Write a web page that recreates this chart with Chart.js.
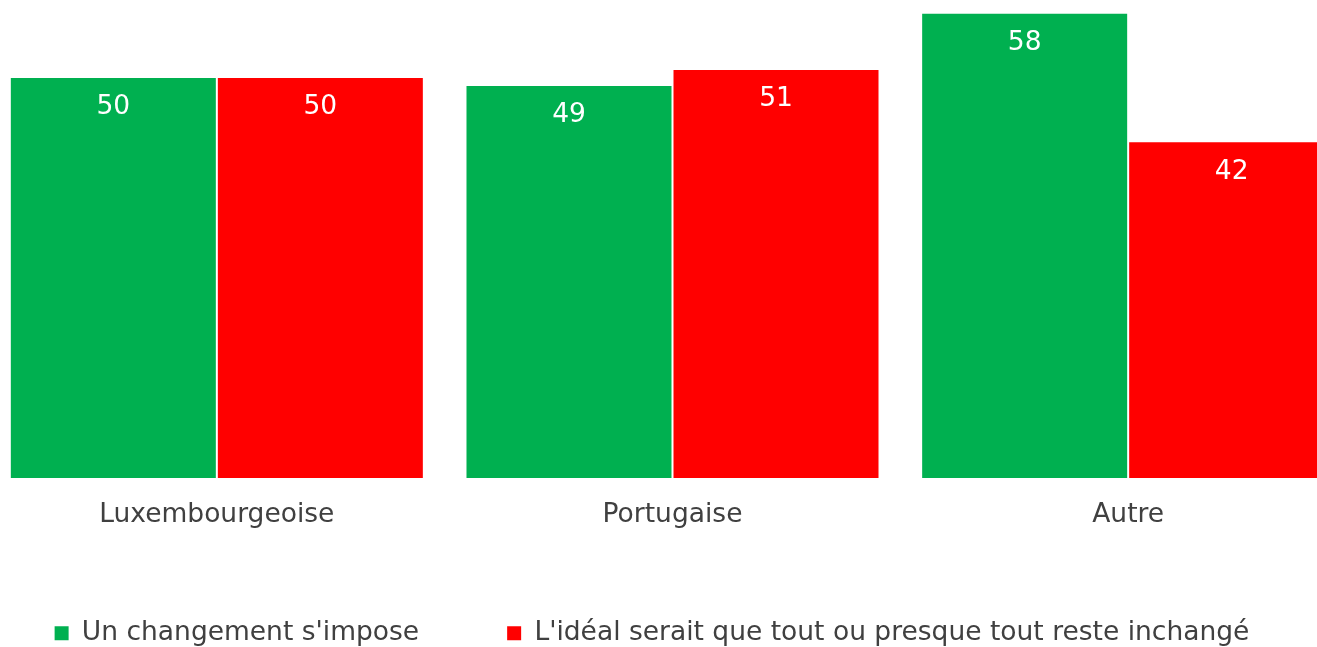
<!DOCTYPE html>
<html>
<head>
<meta charset="utf-8">
<script src="https://cdn.jsdelivr.net/npm/chart.js@4.4.0/dist/chart.umd.min.js"></script>
<style>
html,body{margin:0;padding:0;background:#fff;overflow:hidden;}
/* canvas is wider than the window: the last bar is cut by the right edge, like the source */
#wrap{position:absolute;left:-52px;top:0;width:1408px;height:647px;}
</style>
</head>
<body>
<div id="wrap"><canvas id="chart"></canvas></div>
<script>
const categories=['Luxembourgeoise','Portugaise','Autre'];
const seriesNames=["Un changement s'impose","L'idéal serait que tout ou presque tout reste inchangé"];
const changeValues=[50,49,58];
const unchangedValues=[50,51,42];
const seriesColors=['#00B050','#FF0000'];

Chart.defaults.font.family='"DejaVu Sans", Verdana, sans-serif';
Chart.defaults.font.size=26.5;
Chart.defaults.color='#404040';

// white numbers inside the top of each bar
const valueLabels={
  id:'valueLabels',
  afterDatasetsDraw(chart){
    const ctx=chart.ctx;
    ctx.save();
    ctx.font='26.5px "DejaVu Sans", Verdana, sans-serif';
    ctx.fillStyle='#ffffff';
    ctx.textAlign='center';
    ctx.textBaseline='middle';
    chart.data.datasets.forEach((ds,i)=>{
      chart.getDatasetMeta(i).data.forEach((bar,j)=>{
        ctx.fillText(ds.data[j],bar.x,bar.y+30.5);
      });
    });
    ctx.restore();
  }
};

new Chart(document.getElementById('chart'),{
  type:'bar',
  data:{
    labels:categories,
    datasets:[
      {label:seriesNames[0],data:changeValues,backgroundColor:seriesColors[0],borderColor:'rgba(255,255,255,0.2)',borderWidth:1},
      {label:seriesNames[1],data:unchangedValues,backgroundColor:seriesColors[1],borderColor:'rgba(255,255,255,0.2)',borderWidth:1}
    ]
  },
  options:{
    responsive:true,
    maintainAspectRatio:false,
    animation:false,
    layout:{padding:0},
    datasets:{bar:{categoryPercentage:0.9086,barPercentage:1}},
    scales:{
      x:{
        grid:{display:false,drawTicks:false},
        border:{display:false},
        ticks:{padding:21,color:'#404040'},
        afterFit(scale){scale.height=54;}
      },
      y:{
        min:0,max:59.6,
        grid:{display:false,drawTicks:false},
        border:{display:false},
        ticks:{display:false},
        afterFit(scale){scale.width=41;}
      }
    },
    plugins:{
      tooltip:{enabled:false},
      legend:{
        position:'bottom',
        maxHeight:115,
        labels:{
          boxWidth:14,boxHeight:14,padding:88,color:'#404040',
          generateLabels(chart){
            return Chart.defaults.plugins.legend.labels.generateLabels(chart).map(l=>Object.assign(l,{lineWidth:0}));
          }
        }
      }
    }
  },
  plugins:[valueLabels]
});
</script>
</body>
</html>
